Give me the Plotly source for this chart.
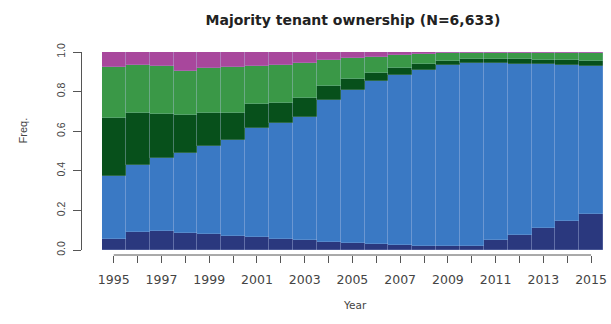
import plotly.graph_objects as go

# Share of properties in each ownership state, by year (each year sums to 1)
years = list(range(1995, 2016))
state_names = ["State 1", "State 2", "State 3", "State 4", "State 5"]
state_1 = [0.054, 0.093, 0.094, 0.084, 0.081, 0.071, 0.067, 0.055, 0.050, 0.042, 0.037,
           0.030, 0.025, 0.020, 0.020, 0.020, 0.050, 0.076, 0.110, 0.146, 0.182]
state_2 = [0.320, 0.336, 0.369, 0.404, 0.444, 0.485, 0.547, 0.585, 0.620, 0.716, 0.771,
           0.825, 0.859, 0.889, 0.914, 0.926, 0.896, 0.864, 0.830, 0.790, 0.748]
state_3 = [0.291, 0.265, 0.224, 0.194, 0.169, 0.138, 0.122, 0.104, 0.096, 0.070, 0.054,
           0.041, 0.033, 0.030, 0.022, 0.017, 0.017, 0.023, 0.020, 0.024, 0.026]
state_4 = [0.261, 0.240, 0.242, 0.224, 0.223, 0.232, 0.193, 0.190, 0.177, 0.132, 0.106,
           0.080, 0.068, 0.051, 0.039, 0.034, 0.034, 0.034, 0.037, 0.037, 0.041]
state_5 = [0.074, 0.066, 0.071, 0.094, 0.083, 0.074, 0.071, 0.066, 0.057, 0.040, 0.032,
           0.024, 0.015, 0.010, 0.005, 0.003, 0.003, 0.003, 0.003, 0.003, 0.003]
series = [state_1, state_2, state_3, state_4, state_5]
colors = ["#2A387E", "#3A79C4", "#07501B", "#3A9847", "#A8479C"]

y_ticks = [0.0, 0.2, 0.4, 0.6, 0.8, 1.0]
y_tick_text = ["0.0", "0.2", "0.4", "0.6", "0.8", "1.0"]
x_tick_text = [str(y) if (y - 1995) % 2 == 0 else "" for y in years]

W, H = 611, 324
ML, MR, MT, MB = 81, 4, 52, 69
pw, ph = W - ML - MR, H - MT - MB

fig = go.Figure()
for name, vals, col in zip(state_names, series, colors):
    fig.add_trace(go.Bar(
        x=years, y=vals, name=name,
        marker=dict(color=col, line=dict(color="rgba(190,205,235,0.35)", width=0.6)),
        hoverinfo="x+y+name",
    ))

axis_col = "#555555"
wide_font = "DejaVu Sans, Verdana, sans-serif"
narrow_font = "Liberation Sans, Arial, sans-serif"

fig.update_layout(
    width=W, height=H,
    margin=dict(l=ML, r=MR, t=MT, b=MB),
    barmode="stack", bargap=0,
    showlegend=False,
    plot_bgcolor="white", paper_bgcolor="white",
    title=dict(
        text="<b>Majority tenant ownership (N=6,633)</b>",
        x=(355 - ML) / pw, xref="paper", xanchor="center",
        y=1 - 20 / H, yref="container", yanchor="middle",
        font=dict(family=wide_font, size=14, color="#222222"),
    ),
    xaxis=dict(
        domain=[21 / pw, 1], anchor="free", position=0,
        range=[1994.5, 2015.5],
        tickmode="array", tickvals=years, ticktext=x_tick_text,
        ticks="outside", ticklen=7, tickcolor=axis_col, tickwidth=1,
        ticklabelstandoff=6,
        showline=False, showgrid=False, zeroline=False,
        tickfont=dict(family=wide_font, size=12.5, color="#444444"),
    ),
    yaxis=dict(
        domain=[5 / ph, 1], anchor="free", position=0,
        range=[0, 1],
        tickmode="array", tickvals=y_ticks, ticktext=y_tick_text,
        tickangle=-90,
        ticks="outside", ticklen=8, tickcolor=axis_col, tickwidth=1,
        ticklabelstandoff=4,
        showline=True, linecolor=axis_col, linewidth=1,
        showgrid=False, zeroline=False,
        tickfont=dict(family=narrow_font, size=10.5, color="#444444"),
    ),
)

# x-axis baseline spanning the first to the last year tick
fig.add_shape(type="line", xref="x", yref="paper",
              x0=years[0], x1=years[-1], y0=0, y1=0,
              line=dict(color=axis_col, width=1))

fig.add_annotation(text="Freq.", xref="paper", yref="paper",
                   x=(23 - ML) / pw, y=(H - MB - 130) / ph, textangle=-90,
                   xanchor="center", yanchor="middle",
                   showarrow=False, font=dict(family=narrow_font, size=11, color="#444444"))
fig.add_annotation(text="Year", xref="paper", yref="paper",
                   x=(357 - ML) / pw, y=(H - MB - 305) / ph,
                   xanchor="center", yanchor="middle",
                   showarrow=False, font=dict(family=wide_font, size=10.5, color="#444444"))

fig.write_html("out.html")
